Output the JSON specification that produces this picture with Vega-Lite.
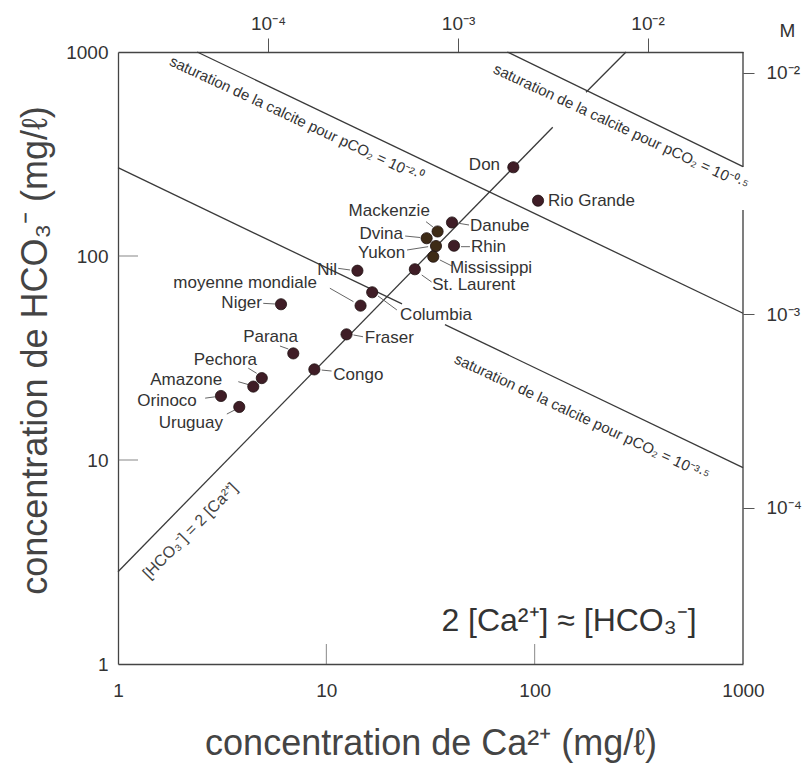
{
  "$schema": "https://vega.github.io/schema/vega-lite/v6.json",
  "width": 625,
  "height": 612,
  "autosize": {"type": "none"},
  "padding": {"left": 118, "top": 52, "right": 67, "bottom": 103},
  "background": "white",
  "config": {"view": {"stroke": null}, "font": "Liberation Sans"},
  "datasets": {
    "pts": [
      {"river": "Don", "ca": 79.0, "hco3": 272.2, "grp": "a"},
      {"river": "Rio Grande", "ca": 103.8, "hco3": 186.7, "grp": "a"},
      {"river": "Danube", "ca": 40.1, "hco3": 146.0, "grp": "a"},
      {"river": "Rhin", "ca": 41.0, "hco3": 112.3, "grp": "a"},
      {"river": "St. Laurent", "ca": 26.6, "hco3": 86.1, "grp": "a"},
      {"river": "Mackenzie", "ca": 34.2, "hco3": 131.9, "grp": "b"},
      {"river": "Dvina", "ca": 30.3, "hco3": 122.2, "grp": "b"},
      {"river": "Yukon", "ca": 33.6, "hco3": 111.9, "grp": "b"},
      {"river": "Mississippi", "ca": 32.6, "hco3": 99.2, "grp": "b"},
      {"river": "Nil", "ca": 14.1, "hco3": 84.7, "grp": "a"},
      {"river": "Columbia", "ca": 16.6, "hco3": 66.4, "grp": "a"},
      {"river": "moyenne mondiale", "ca": 14.6, "hco3": 57.1, "grp": "a"},
      {"river": "Niger", "ca": 6.06, "hco3": 58.0, "grp": "a"},
      {"river": "Fraser", "ca": 12.5, "hco3": 41.3, "grp": "a"},
      {"river": "Parana", "ca": 6.94, "hco3": 33.3, "grp": "a"},
      {"river": "Congo", "ca": 8.76, "hco3": 27.8, "grp": "a"},
      {"river": "Pechora", "ca": 4.90, "hco3": 25.2, "grp": "a"},
      {"river": "Amazone", "ca": 4.46, "hco3": 22.9, "grp": "a"},
      {"river": "Orinoco", "ca": 3.12, "hco3": 20.6, "grp": "a"},
      {"river": "Uruguay", "ca": 3.82, "hco3": 18.2, "grp": "a"}
    ],
    "labels": [
      {"river": "Don", "lx": 68.2, "ly": 279.3, "side": "r"},
      {"river": "Mackenzie", "lx": 31.4, "ly": 166.2, "side": "r"},
      {"river": "Dvina", "lx": 23.3, "ly": 128.2, "side": "r"},
      {"river": "Yukon", "lx": 23.9, "ly": 103.4, "side": "r"},
      {"river": "Nil", "lx": 11.25, "ly": 85.4, "side": "r"},
      {"river": "moyenne mondiale", "lx": 9.02, "ly": 73.9, "side": "r"},
      {"river": "Niger", "lx": 4.91, "ly": 58.9, "side": "r"},
      {"river": "Parana", "lx": 7.31, "ly": 40.1, "side": "r"},
      {"river": "Pechora", "lx": 4.65, "ly": 30.9, "side": "r"},
      {"river": "Amazone", "lx": 3.16, "ly": 24.7, "side": "r"},
      {"river": "Orinoco", "lx": 2.39, "ly": 19.5, "side": "r"},
      {"river": "Uruguay", "lx": 3.19, "ly": 15.2, "side": "r"},
      {"river": "Rio Grande", "lx": 115.9, "ly": 186.1, "side": "l"},
      {"river": "Danube", "lx": 48.9, "ly": 140.3, "side": "l"},
      {"river": "Rhin", "lx": 49.5, "ly": 110.7, "side": "l"},
      {"river": "Mississippi", "lx": 39.2, "ly": 87.3, "side": "l"},
      {"river": "St. Laurent", "lx": 32.2, "ly": 72.1, "side": "l"},
      {"river": "Columbia", "lx": 22.6, "ly": 51.4, "side": "l"},
      {"river": "Fraser", "lx": 15.3, "ly": 39.6, "side": "l"},
      {"river": "Congo", "lx": 10.8, "ly": 26.1, "side": "l"}
    ],
    "leaders": [
      {"river": "Mackenzie", "x": 30.1, "y": 147.3, "x2": 32.5, "y2": 138.7},
      {"river": "Danube", "x": 42.4, "y": 145.1, "x2": 48.4, "y2": 141.9},
      {"river": "Dvina", "x": 23.9, "y": 125.3, "x2": 28.2, "y2": 123.2},
      {"river": "Rhin", "x": 44.3, "y": 111.1, "x2": 48.9, "y2": 111.1},
      {"river": "Yukon", "x": 24.4, "y": 107.0, "x2": 30.8, "y2": 111.1},
      {"river": "Mississippi", "x": 35.1, "y": 95.6, "x2": 40.1, "y2": 89.3},
      {"river": "St. Laurent", "x": 28.7, "y": 80.7, "x2": 32.0, "y2": 74.6},
      {"river": "Nil", "x": 11.4, "y": 87.0, "x2": 13.0, "y2": 85.4},
      {"river": "moyenne mondiale", "x": 10.4, "y": 69.5, "x2": 13.5, "y2": 59.7},
      {"river": "Niger", "x": 4.98, "y": 58.6, "x2": 5.67, "y2": 58.2},
      {"river": "Parana", "x": 5.99, "y": 36.2, "x2": 6.57, "y2": 35.0},
      {"river": "Pechora", "x": 4.22, "y": 28.2, "x2": 4.63, "y2": 26.6},
      {"river": "Amazone", "x": 3.78, "y": 24.2, "x2": 4.30, "y2": 23.3},
      {"river": "Orinoco", "x": 2.62, "y": 20.1, "x2": 2.92, "y2": 20.4},
      {"river": "Uruguay", "x": 3.33, "y": 16.8, "x2": 3.64, "y2": 17.6},
      {"river": "Congo", "x": 9.50, "y": 27.6, "x2": 10.6, "y2": 27.3},
      {"river": "Fraser", "x": 13.5, "y": 41.0, "x2": 15.0, "y2": 40.2},
      {"river": "Columbia", "x": 17.7, "y": 63.7, "x2": 21.8, "y2": 54.4}
    ],
    "lines": [
      {"name": "2Ca a", "x": 1, "y": 2.835, "x2": 122.1, "y2": 427.5},
      {"name": "2Ca b", "x": 176.4, "y": 634.6, "x2": 274.5, "y2": 1000},
      {"name": "sat -2.0", "x": 2.40, "y": 1000, "x2": 1000, "y2": 52.4},
      {"name": "sat -0.5", "x": 73.9, "y": 1000, "x2": 1000, "y2": 274.1},
      {"name": "sat -3.5 a", "x": 1, "y": 270.9, "x2": 23.08, "y2": 58.2},
      {"name": "sat -3.5 b", "x": 37.1, "y": 46.1, "x2": 1000, "y2": 9.17},
      {"name": "frame right a", "x": 1000, "y": 1000, "x2": 1000, "y2": 273},
      {"name": "frame right b", "x": 1000, "y": 168, "x2": 1000, "y2": 1}
    ],
    "innerticks": [{"v": 10}, {"v": 100}],
    "notes": [
      {"t": "saturation de la calcite pour pCO₂ = 10⁻²·⁰", "x": 7.19, "y": 469.6, "kind": "sat"},
      {"t": "saturation de la calcite pour pCO₂ = 10⁻⁰·⁵", "x": 259.7, "y": 428.8, "kind": "sat"},
      {"t": "saturation de la calcite pour pCO₂ = 10⁻³·⁵", "x": 168.7, "y": 16.25, "kind": "sat"},
      {"t": "[HCO₃⁻] = 2 [Ca²⁺]", "x": 2.22, "y": 4.49, "kind": "eq"},
      {"t": "2 [Ca²⁺] ≈ [HCO₃⁻]", "x": 146.2, "y": 1.625, "kind": "big"}
    ]
  },
  "resolve": {"axis": {"x": "independent", "y": "independent"}},
  "layer": [
    {
      "data": {"name": "lines"},
      "mark": {"type": "rule", "color": "#3a3a3a", "strokeWidth": 1.3},
      "encoding": {
        "x": {"field": "x", "type": "quantitative",
          "scale": {"type": "log", "domain": [1, 1000], "nice": false},
          "axis": {"orient": "bottom", "values": [1, 10, 100, 1000], "format": "d",
            "ticks": false, "labelPadding": 17,
            "labelFontSize": 19, "labelColor": "#333", "labelFlush": false, "labelOverlap": false,
            "domainColor": "#444", "domainWidth": 1.3, "grid": false,
            "title": "concentration de Ca²⁺ (mg/ℓ)", "titleFontSize": 36, "titleFontWeight": "normal",
            "titleColor": "#444", "titlePadding": 26}},
        "y": {"field": "y", "type": "quantitative",
          "scale": {"type": "log", "domain": [1, 1000], "nice": false},
          "axis": {"orient": "left", "values": [1, 10, 100, 1000], "format": "d",
            "ticks": false, "labelPadding": 10,
            "labelFontSize": 19, "labelColor": "#333", "labelFlush": false, "labelOverlap": false,
            "domainColor": "#444", "domainWidth": 1.3, "grid": false,
            "title": "concentration de HCO₃⁻ (mg/ℓ)", "titleFontSize": 36, "titleFontWeight": "normal",
            "titleColor": "#444", "titlePadding": 11, "titleY": 298}},
        "x2": {"field": "x2"},
        "y2": {"field": "y2"}
      }
    },
    {
      "data": {"name": "pts"},
      "mark": {"type": "circle", "opacity": 0},
      "encoding": {
        "x": {"field": "ca", "type": "quantitative",
          "scale": {"type": "log", "domain": [1, 1000], "nice": false},
          "axis": {"orient": "top", "values": [5.25, 42.9, 348.4],
            "labelExpr": "datum.value < 10 ? '10⁻⁴' : (datum.value < 100 ? '10⁻³' : '10⁻²')",
            "tickSize": 14, "tickColor": "#555", "tickWidth": 1, "labelPadding": 5,
            "labelFontSize": 19, "labelColor": "#333", "labelFlush": false, "labelOverlap": false,
            "domainColor": "#444", "domainWidth": 1.3, "grid": false,
            "title": "M", "titleFontSize": 19, "titleFontWeight": "normal", "titleColor": "#333",
            "titleX": 669, "titleY": -22, "titleAlign": "center", "titleBaseline": "middle", "titleAngle": 0}},
        "y": {"field": "hco3", "type": "quantitative",
          "scale": {"type": "log", "domain": [1, 1000], "nice": false},
          "axis": {"orient": "right", "values": [5.82, 51.9, 789],
            "labelExpr": "datum.value < 10 ? '10⁻⁴' : (datum.value < 100 ? '10⁻³' : '10⁻²')",
            "tickSize": 11, "tickColor": "#555", "tickWidth": 1, "labelPadding": 12,
            "labelFontSize": 19, "labelColor": "#333", "labelFlush": false, "labelOverlap": false,
            "domain": false, "grid": false, "title": null}}
      }
    },
    {
      "data": {"name": "innerticks"},
      "mark": {"type": "tick", "orient": "vertical", "size": 40, "thickness": 1, "color": "#555", "clip": true},
      "encoding": {
        "x": {"field": "v", "type": "quantitative", "scale": {"type": "log", "domain": [1, 1000], "nice": false}, "axis": null},
        "y": {"datum": 1, "type": "quantitative", "scale": {"type": "log", "domain": [1, 1000], "nice": false}, "axis": null}
      }
    },
    {
      "data": {"name": "innerticks"},
      "mark": {"type": "tick", "orient": "horizontal", "size": 40, "thickness": 1, "color": "#555", "clip": true},
      "encoding": {
        "x": {"datum": 1, "type": "quantitative", "scale": {"type": "log", "domain": [1, 1000], "nice": false}, "axis": null},
        "y": {"field": "v", "type": "quantitative", "scale": {"type": "log", "domain": [1, 1000], "nice": false}, "axis": null}
      }
    },
    {
      "data": {"name": "leaders"},
      "mark": {"type": "rule", "color": "#666", "strokeWidth": 1},
      "encoding": {
        "x": {"field": "x", "type": "quantitative", "scale": {"type": "log", "domain": [1, 1000], "nice": false}, "axis": null},
        "y": {"field": "y", "type": "quantitative", "scale": {"type": "log", "domain": [1, 1000], "nice": false}, "axis": null},
        "x2": {"field": "x2"},
        "y2": {"field": "y2"}
      }
    },
    {
      "data": {"name": "pts"},
      "mark": {"type": "circle", "size": 125, "opacity": 1, "stroke": "#1e1012", "strokeWidth": 0.8},
      "encoding": {
        "x": {"field": "ca", "type": "quantitative", "scale": {"type": "log", "domain": [1, 1000], "nice": false}, "axis": null},
        "y": {"field": "hco3", "type": "quantitative", "scale": {"type": "log", "domain": [1, 1000], "nice": false}, "axis": null},
        "color": {"field": "grp", "type": "nominal", "scale": {"domain": ["a", "b"], "range": ["#3f1d26", "#3e2b16"]}, "legend": null}
      }
    },
    {
      "data": {"name": "labels"},
      "transform": [{"filter": "datum.side === 'r'"}],
      "mark": {"type": "text", "align": "right", "baseline": "middle", "fontSize": 17, "color": "#333"},
      "encoding": {
        "x": {"field": "lx", "type": "quantitative", "scale": {"type": "log", "domain": [1, 1000], "nice": false}, "axis": null},
        "y": {"field": "ly", "type": "quantitative", "scale": {"type": "log", "domain": [1, 1000], "nice": false}, "axis": null},
        "text": {"field": "river"}
      }
    },
    {
      "data": {"name": "labels"},
      "transform": [{"filter": "datum.side === 'l'"}],
      "mark": {"type": "text", "align": "left", "baseline": "middle", "fontSize": 17, "color": "#333"},
      "encoding": {
        "x": {"field": "lx", "type": "quantitative", "scale": {"type": "log", "domain": [1, 1000], "nice": false}, "axis": null},
        "y": {"field": "ly", "type": "quantitative", "scale": {"type": "log", "domain": [1, 1000], "nice": false}, "axis": null},
        "text": {"field": "river"}
      }
    },
    {
      "data": {"name": "notes"},
      "transform": [{"filter": "datum.kind === 'sat'"}],
      "mark": {"type": "text", "align": "center", "baseline": "middle", "fontSize": 15, "angle": 25, "color": "#333"},
      "encoding": {
        "x": {"field": "x", "type": "quantitative", "scale": {"type": "log", "domain": [1, 1000], "nice": false}, "axis": null},
        "y": {"field": "y", "type": "quantitative", "scale": {"type": "log", "domain": [1, 1000], "nice": false}, "axis": null},
        "text": {"field": "t"}
      }
    },
    {
      "data": {"name": "notes"},
      "transform": [{"filter": "datum.kind === 'eq'"}],
      "mark": {"type": "text", "align": "center", "baseline": "middle", "fontSize": 16, "angle": -45.5, "color": "#444"},
      "encoding": {
        "x": {"field": "x", "type": "quantitative", "scale": {"type": "log", "domain": [1, 1000], "nice": false}, "axis": null},
        "y": {"field": "y", "type": "quantitative", "scale": {"type": "log", "domain": [1, 1000], "nice": false}, "axis": null},
        "text": {"field": "t"}
      }
    },
    {
      "data": {"name": "notes"},
      "transform": [{"filter": "datum.kind === 'big'"}],
      "mark": {"type": "text", "align": "center", "baseline": "middle", "fontSize": 32, "color": "#333"},
      "encoding": {
        "x": {"field": "x", "type": "quantitative", "scale": {"type": "log", "domain": [1, 1000], "nice": false}, "axis": null},
        "y": {"field": "y", "type": "quantitative", "scale": {"type": "log", "domain": [1, 1000], "nice": false}, "axis": null},
        "text": {"field": "t"}
      }
    }
  ]
}
